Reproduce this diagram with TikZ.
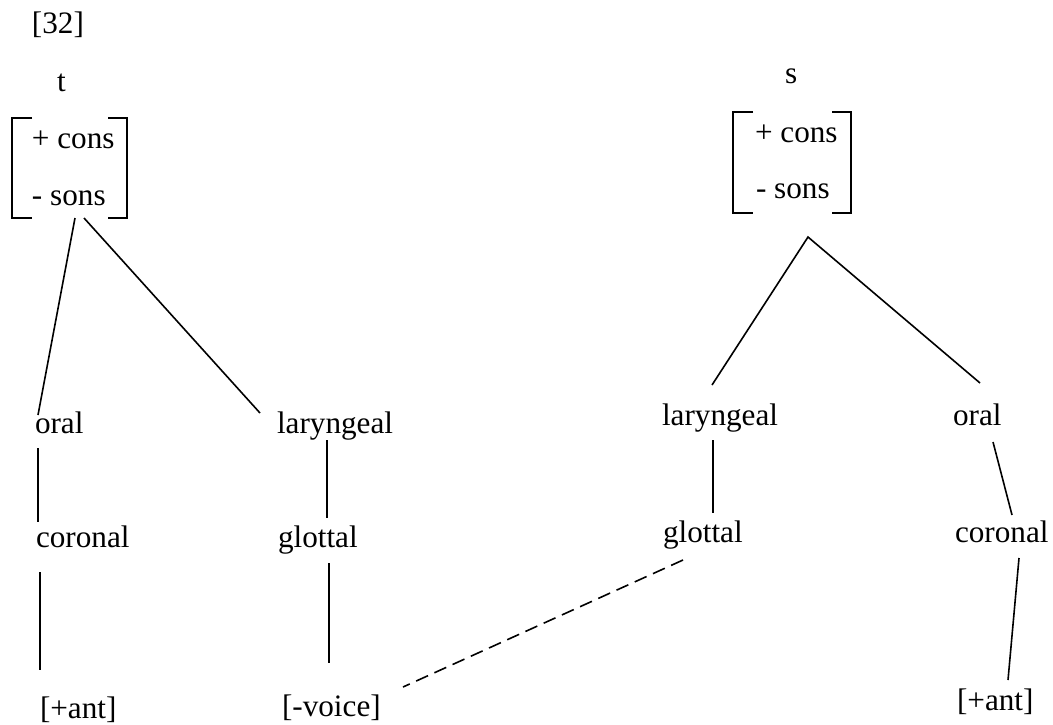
\documentclass[tikz,border=0pt]{standalone}
\usepackage{fontspec}
\setmainfont{Liberation Serif}
\usepackage{tikz}
\usetikzlibrary{positioning}

\tikzset{
  feat/.style={anchor=base west, inner sep=0pt, outer sep=0pt,
    font=\fontsize{15.6pt}{18pt}\selectfont},
  matbox/.style={inner sep=0pt, outer sep=0pt},
  link/.style={line width=0.8pt},
  spread/.style={line width=0.8pt, dash pattern=on 6.5pt off 3.5pt}
}

\begin{document}
\begin{tikzpicture}[x=0.5pt,y=-0.5pt]
  \useasboundingbox (0,0) rectangle (1053,724);

  \node[feat] (num) at (32,33) {[32]};

  % t: feature matrix and tree
  \node[feat] (tsym) at (57,91) {t};
  \node[matbox, minimum width=57.5pt, minimum height=50pt] (tmat) at (69.5,168) {};
  \node[feat] (tplus) at (32,148) {+ cons};
  \node[feat] (tminus) at (32,205) {- sons};
  \draw[link] ([shift={(20,0)}]tmat.north west) -| (tmat.south west) -- ++(20,0);
  \draw[link] ([shift={(-19,0)}]tmat.north east) -| (tmat.south east) -- ++(-19,0);

  \node[feat] (tor) at (35,433) {oral};
  \node[feat] (tlar) at (277,433) {laryngeal};
  \node[feat] (tcor) at (36,547) {coronal};
  \node[feat] (tglo) at (278,547) {glottal};
  \node[feat] (tant) at (40,718) {[+ant]};
  \node[feat] (tvoi) at (282,716) {[-voice]};

  \draw[link] ([shift={(5.5,0)}]tmat.south) -- ([shift={(3,-18)}]tor.base west);
  \draw[link] ([shift={(14.5,0)}]tmat.south) -- ([shift={(-17,-20)}]tlar.base west);
  \draw[link] ([shift={(3,15)}]tor.base west) -- ([shift={(2,-25)}]tcor.base west);
  \draw[link] ([shift={(4,25)}]tcor.base west) -- ([shift={(0,-48)}]tant.base west);
  \draw[link] ([shift={(50,7)}]tlar.base west) -- ([shift={(49,-29)}]tglo.base west);
  \draw[link] ([shift={(51,16)}]tglo.base west) -- ([shift={(47,-53)}]tvoi.base west);

  % s: feature matrix and tree
  \node[feat] (ssym) at (785,83) {s};
  \node[matbox, minimum width=59pt, minimum height=50.5pt] (smat) at (792,162.5) {};
  \node[feat] (splus) at (755,142) {+ cons};
  \node[feat] (sminus) at (756,198) {- sons};
  \draw[link] ([shift={(20,0)}]smat.north west) -| (smat.south west) -- ++(20,0);
  \draw[link] ([shift={(-19,0)}]smat.north east) -| (smat.south east) -- ++(-19,0);

  \node[feat] (slar) at (662,425) {laryngeal};
  \node[feat] (sor) at (953,425) {oral};
  \node[feat] (sglo) at (663,542) {glottal};
  \node[feat] (scor) at (955,542) {coronal};
  \node[feat] (sant) at (957,710) {[+ant]};

  \draw[link] ([shift={(50,-40)}]slar.base west) -- ([shift={(16,24)}]smat.south)
    -- ([shift={(27,-42)}]sor.base west);
  \draw[link] ([shift={(51,15)}]slar.base west) -- ([shift={(50,-29)}]sglo.base west);
  \draw[link] ([shift={(40,17)}]sor.base west) -- ([shift={(57,-27)}]scor.base west);
  \draw[link] ([shift={(64,16)}]scor.base west) -- ([shift={(51,-30)}]sant.base west);

  % voicing spreads from the s glottal node
  \draw[spread] ([shift={(20,18)}]sglo.base west) -- ([shift={(121,-29)}]tvoi.base west);
\end{tikzpicture}
\end{document}
